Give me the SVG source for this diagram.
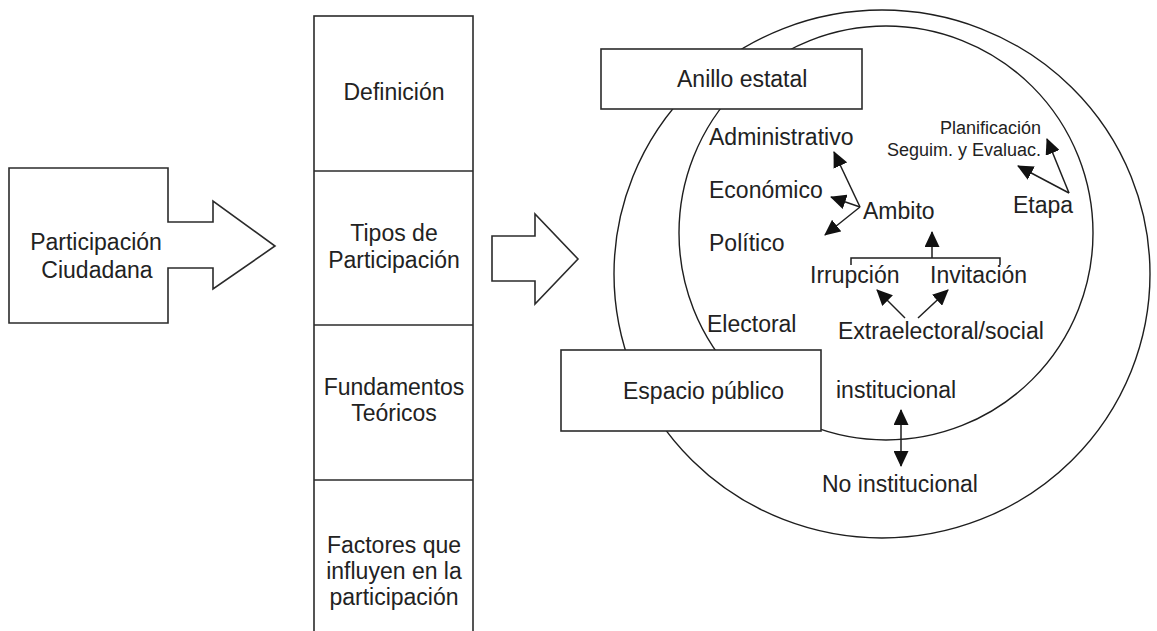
<svg xmlns="http://www.w3.org/2000/svg" width="1157" height="631" viewBox="0 0 1157 631">
<style>
  .shape { fill: #ffffff; stroke: #2b2b2b; stroke-width: 1.6; }
  .ring { fill: none; stroke: #1e1e1e; stroke-width: 1.4; }
  .t { font-family: "Liberation Sans", Arial, sans-serif; font-size: 23px; fill: #222222; }
  .s { font-family: "Liberation Sans", Arial, sans-serif; font-size: 18px; fill: #222222; }
  .c { text-anchor: middle; }
  .e { text-anchor: end; }
  .ln { fill: none; stroke: #1e1e1e; stroke-width: 1.5; }
</style>
<defs>
  <marker id="ah" viewBox="0 0 16 15" refX="15" refY="7.5" markerWidth="16" markerHeight="15" markerUnits="userSpaceOnUse" orient="auto-start-reverse">
    <path d="M0,0 L16,7.5 L0,15 z" fill="#111111"/>
  </marker>
</defs>
<rect width="1157" height="631" fill="#ffffff"/>

<g id="participacion">
  <polygon class="shape" points="9,168 168,168 168,222 213,222 213,201 275,246 213,289 213,268 168,268 168,323 9,323"/>
  <text class="t c" x="96" y="250">Participación</text>
  <text class="t c" x="97" y="278">Ciudadana</text>
</g>

<g id="columna">
  <rect class="shape" x="314" y="16" width="159" height="630"/>
  <line class="shape" x1="314" y1="171" x2="473" y2="171"/>
  <line class="shape" x1="314" y1="325" x2="473" y2="325"/>
  <line class="shape" x1="314" y1="480" x2="473" y2="480"/>
</g>
<g id="definicion"><text class="t c" x="394" y="100">Definición</text></g>
<g id="tipos">
  <text class="t c" x="394" y="241">Tipos de</text>
  <text class="t c" x="394" y="268">Participación</text>
</g>
<g id="fundamentos">
  <text class="t c" x="394" y="395">Fundamentos</text>
  <text class="t c" x="394" y="421">Teóricos</text>
</g>
<g id="factores">
  <text class="t c" x="394" y="553">Factores que</text>
  <text class="t c" x="394" y="579">influyen en la</text>
  <text class="t c" x="394" y="605">participación</text>
</g>

<g id="flecha-media">
  <polygon class="shape" points="492,236 535,236 535,214 578,259 535,304 535,281 492,281"/>
</g>

<g id="espacio-circulos">
  <ellipse class="ring" cx="882" cy="274" rx="268" ry="264"/>
  <circle class="ring" cx="886" cy="233" r="207"/>
</g>

<g id="anillo-estatal">
  <rect class="shape" x="601" y="49" width="261" height="60"/>
  <text class="t" x="677" y="87">Anillo estatal</text>
</g>

<g id="espacio-publico">
  <rect class="shape" x="561" y="350" width="260" height="81"/>
  <text class="t" x="623" y="399">Espacio público</text>
</g>

<g id="administrativo"><text class="t" x="709" y="145">Administrativo</text></g>
<g id="economico"><text class="t" x="709" y="198">Económico</text></g>
<g id="politico"><text class="t" x="709" y="251">Político</text></g>
<g id="ambito"><text class="t" x="863" y="219">Ambito</text></g>
<g id="planificacion"><text class="s e" x="1041" y="134">Planificación</text></g>
<g id="seguimiento"><text class="s e" x="1041" y="156">Seguim. y Evaluac.</text></g>
<g id="etapa"><text class="t" x="1013" y="213">Etapa</text></g>
<g id="irrupcion"><text class="t" x="810" y="283">Irrupción</text></g>
<g id="invitacion"><text class="t" x="930" y="283">Invitación</text></g>
<g id="electoral"><text class="t" x="707" y="332">Electoral</text></g>
<g id="extraelectoral"><text class="t" x="838" y="339">Extraelectoral/social</text></g>
<g id="institucional"><text class="t" x="836" y="398">institucional</text></g>
<g id="no-institucional"><text class="t" x="822" y="492">No institucional</text></g>

<g id="connectors">
  <line class="ln" x1="860" y1="207" x2="834" y2="152" marker-end="url(#ah)"/>
  <line class="ln" x1="860" y1="207" x2="831" y2="197" marker-end="url(#ah)"/>
  <line class="ln" x1="860" y1="207" x2="825" y2="235" marker-end="url(#ah)"/>
  <line class="ln" x1="1069" y1="193" x2="1047" y2="139" marker-end="url(#ah)"/>
  <line class="ln" x1="1069" y1="193" x2="1018" y2="166" marker-end="url(#ah)"/>
  <path class="ln" d="M851,265 V258 H1000 V265"/>
  <line class="ln" x1="932" y1="258" x2="932" y2="232" marker-end="url(#ah)"/>
  <line class="ln" x1="905" y1="318" x2="877" y2="290" marker-end="url(#ah)"/>
  <line class="ln" x1="918" y1="318" x2="948" y2="290" marker-end="url(#ah)"/>
  <line class="ln" x1="901" y1="410" x2="901" y2="466" marker-start="url(#ah)" marker-end="url(#ah)"/>
</g>
</svg>
